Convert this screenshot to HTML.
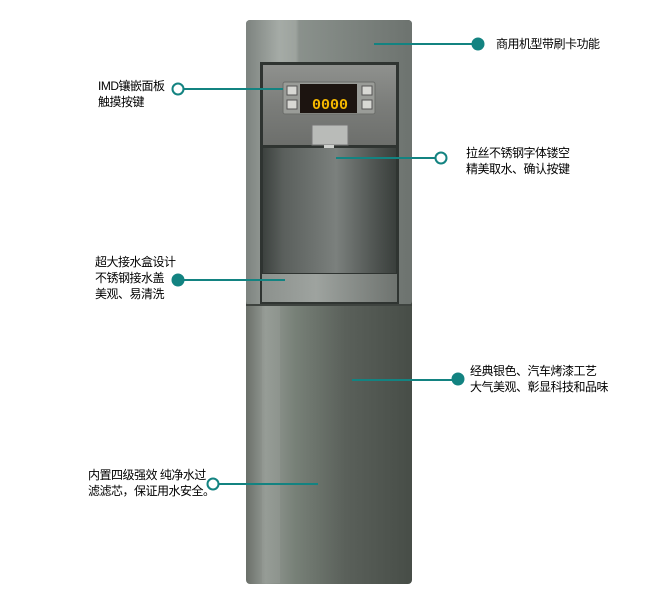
<!DOCTYPE html>
<html><head><meta charset="utf-8">
<style>
html,body{margin:0;padding:0;background:#fff;}
body{width:660px;height:600px;position:relative;overflow:hidden;font-family:"Liberation Sans","Noto Sans CJK SC",sans-serif;}
.t{position:absolute;font-size:12px;line-height:16px;color:#000;white-space:nowrap;letter-spacing:-0.5px;}
</style></head><body>
<svg width="660" height="600" style="position:absolute;left:0;top:0">
<defs>
<linearGradient id="body" x1="0" x2="1" y1="0" y2="0">
<stop offset="0" stop-color="#6a6f69"/><stop offset="0.12" stop-color="#949a94"/><stop offset="0.3" stop-color="#778077"/><stop offset="0.6" stop-color="#5a605a"/><stop offset="1" stop-color="#474d47"/>
</linearGradient>
<linearGradient id="top" x1="0" x2="1" y1="0" y2="0">
<stop offset="0" stop-color="#7d837f"/><stop offset="0.2" stop-color="#a5aba6"/><stop offset="0.3" stop-color="#9da39e"/><stop offset="0.32" stop-color="#8a918c"/><stop offset="1" stop-color="#6d736f"/>
</linearGradient>
<linearGradient id="panel" x1="0" x2="0" y1="0" y2="1">
<stop offset="0" stop-color="#8f918e"/><stop offset="0.5" stop-color="#7b7d7a"/><stop offset="1" stop-color="#6d6f6c"/>
</linearGradient>
<linearGradient id="cav" x1="0" x2="1" y1="0" y2="0">
<stop offset="0" stop-color="#3d423f"/><stop offset="0.15" stop-color="#5a5f5c"/><stop offset="0.55" stop-color="#7b807d"/><stop offset="0.85" stop-color="#4e5350"/><stop offset="1" stop-color="#3a3f3c"/>
</linearGradient>
<linearGradient id="tray" x1="0" x2="1" y1="0" y2="0">
<stop offset="0" stop-color="#8c918d"/><stop offset="0.4" stop-color="#9ea39f"/><stop offset="1" stop-color="#6e736f"/>
</linearGradient>
</defs>
<rect x="246" y="20" width="166" height="564" rx="4" fill="url(#body)"/>
<rect x="246" y="20" width="166" height="285" rx="4" fill="url(#top)"/>
<rect x="260" y="62" width="139" height="242" fill="#2f3431"/>
<rect x="263" y="65" width="133" height="80" fill="url(#panel)"/>
<rect x="283" y="82" width="92" height="32" rx="2" fill="#9a9c98" stroke="#6a6c69"/>
<rect x="300" y="84" width="57" height="29" fill="#1c1410"/>
<text x="312" y="109" font-family="Liberation Mono,monospace" font-size="15" font-weight="bold" fill="#f5b800">0000</text>
<rect x="287" y="86" width="10" height="9" fill="#d8d8d4" stroke="#555"/>
<rect x="287" y="100" width="10" height="9" fill="#d8d8d4" stroke="#555"/>
<rect x="362" y="86" width="10" height="9" fill="#d8d8d4" stroke="#555"/>
<rect x="362" y="100" width="10" height="9" fill="#d8d8d4" stroke="#555"/>
<rect x="312" y="125" width="36" height="20" fill="#b9bbb8" stroke="#777"/>
<rect x="324" y="145" width="10" height="10" fill="#cfd1ce"/>
<rect x="263" y="148" width="133" height="125" fill="url(#cav)"/>
<rect x="262" y="274" width="135" height="28" fill="url(#tray)"/>
<line x1="246" y1="305" x2="412" y2="305" stroke="#3e433f" stroke-width="2"/>
<rect x="262" y="306" width="18" height="277" fill="#9ba09b" opacity="0.35"/>
<g stroke="#138381" stroke-width="2" fill="#138381">
<line x1="374" y1="44" x2="472" y2="44"/><circle cx="478" cy="44" r="5.5"/>
<line x1="184" y1="89" x2="283" y2="89"/><circle cx="178" cy="89" r="5.5" fill="#fff"/>
<line x1="336" y1="158" x2="435" y2="158"/><circle cx="441" cy="158" r="5.5" fill="#fff"/>
<line x1="184" y1="280" x2="285" y2="280"/><circle cx="178" cy="280" r="5.5"/>
<line x1="352" y1="380" x2="452" y2="380"/><circle cx="458" cy="379" r="5.5"/>
<line x1="219" y1="484" x2="318" y2="484"/><circle cx="213" cy="484" r="5.5" fill="#fff"/>
</g>
</svg>
<div class="t" style="left:496px;top:36px">商用机型带刷卡功能</div>
<div class="t" style="left:98px;top:78px">IMD镶嵌面板<br>触摸按键</div>
<div class="t" style="left:466px;top:145px">拉丝不锈钢字体镂空<br>精美取水、确认按键</div>
<div class="t" style="left:95px;top:254px">超大接水盒设计<br>不锈钢接水盖<br>美观、易清洗</div>
<div class="t" style="left:470px;top:363px">经典银色、汽车烤漆工艺<br>大气美观、彰显科技和品味</div>
<div class="t" style="left:88px;top:467px">内置四级强效 纯净水过<br>滤滤芯，保证用水安全。</div>
</body></html>
